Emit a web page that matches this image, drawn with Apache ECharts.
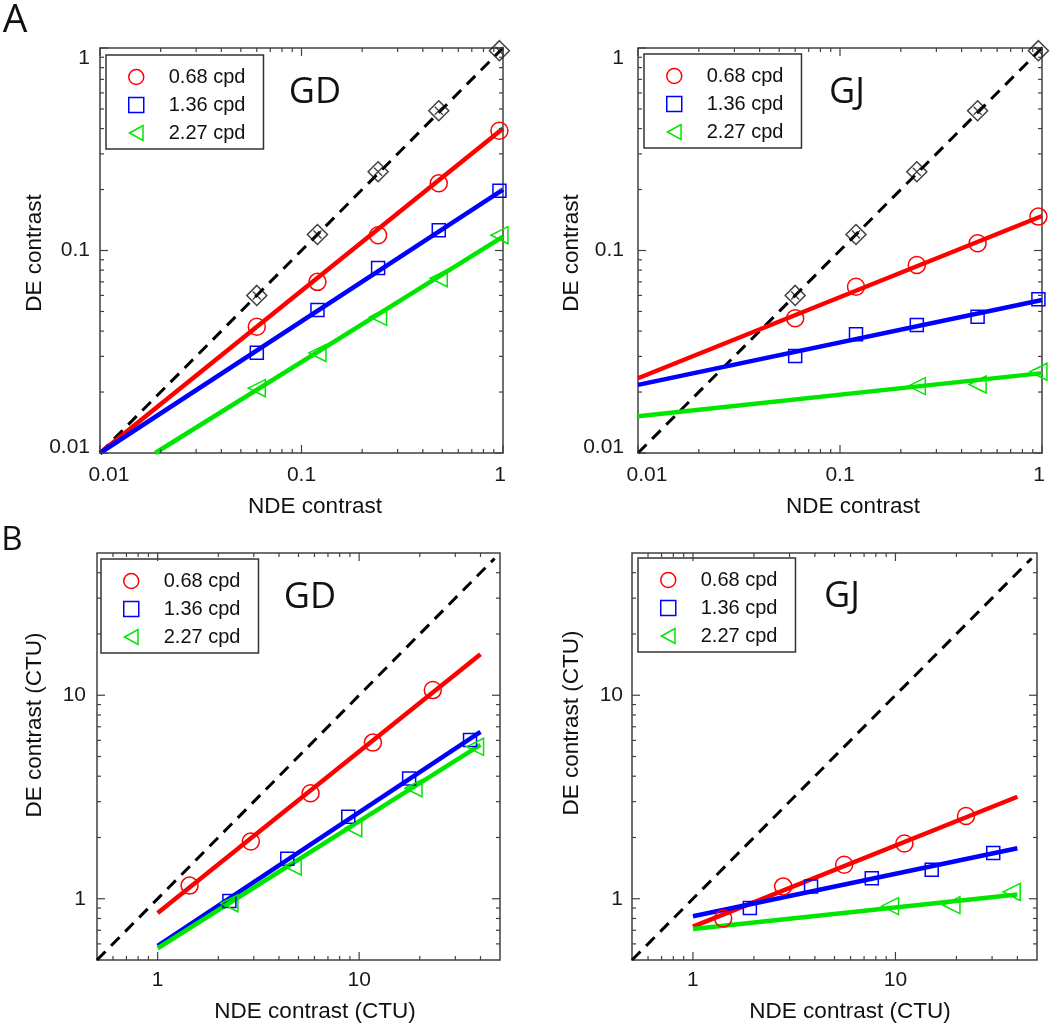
<!DOCTYPE html>
<html><head><meta charset="utf-8">
<script src="https://cdn.jsdelivr.net/npm/echarts@6/dist/echarts.min.js"></script>
<style>html,body{margin:0;padding:0;background:#fff}#c{width:1050px;height:1029px}</style>
</head><body><div id="c"></div><script>
// ---------- data ----------
const seriesNames = ['0.68 cpd', '1.36 cpd', '2.27 cpd'];
// Panel A (contrast), x positions shared
const aX = [0.06, 0.12, 0.24, 0.48, 0.96];
const aGD_unity = [0.06, 0.12, 0.245, 0.49, 0.97];
const aGD_red = [0.042, 0.070, 0.119, 0.215, 0.39];
const aGD_blue = [0.0313, 0.0508, 0.082, 0.126, 0.197];
const aGD_green = [0.0209, 0.0312, 0.047, 0.073, 0.119];
const aGD_fitRed = [[0.01, 0.01], [1, 0.40]];
const aGD_fitBlue = [[0.01, 0.01], [1, 0.20]];
const aGD_fitGreen = [[0.0188, 0.01], [1, 0.117]];

const aGJ_unity = [0.06, 0.12, 0.245, 0.49, 0.97];
const aGJ_red = [0.0463, 0.0662, 0.0848, 0.1085, 0.147];
const aGJ_blue = [0.0301, 0.0386, 0.0429, 0.0471, 0.0574];
const aGJ_greenX = [0.24, 0.48, 0.96];
const aGJ_green = [0.0214, 0.0218, 0.0252];
const aGJ_fitRed = [[0.01, 0.0234], [1, 0.148]];
const aGJ_fitBlue = [[0.01, 0.0217], [1, 0.057]];
const aGJ_fitGreen = [[0.01, 0.0152], [1, 0.0248]];

const aDiag = [[0.01, 0.01], [1, 1]];

// Panel B (CTU)
const bGD_redX = [1.44, 2.9, 5.74, 11.7, 23.2];
const bGD_red = [1.16, 1.91, 3.3, 5.85, 10.6];
const bGD_blueX = [2.27, 4.4, 8.83, 17.7, 35.5];
const bGD_blue = [0.975, 1.57, 2.53, 3.9, 6.03];
const bGD_greenX = [2.27, 4.68, 9.35, 18.6, 37.6];
const bGD_green = [0.95, 1.44, 2.22, 3.49, 5.58];
const bGD_fitRed = [[1, 0.85], [40, 15.9]];
const bGD_fitBlue = [[1, 0.586], [40, 6.6]];
const bGD_fitGreen = [[1, 0.571], [40, 5.7]];

const bGJ_redX = [1.41, 2.79, 5.58, 11.07, 22.3];
const bGJ_red = [0.80, 1.15, 1.47, 1.87, 2.55];
const bGJ_blueX = [1.91, 3.83, 7.64, 15.1, 30.4];
const bGJ_blue = [0.90, 1.15, 1.26, 1.39, 1.68];
const bGJ_greenX = [9.4, 18.9, 37.5];
const bGJ_green = [0.92, 0.93, 1.08];
const bGJ_fitRed = [[1, 0.73], [40, 3.17]];
const bGJ_fitBlue = [[1, 0.82], [40, 1.77]];
const bGJ_fitGreen = [[1, 0.71], [40, 1.05]];

const bDiag = [[0.5, 0.5], [47, 47]];

// axes / ticks
const aRange = [0.01, 1];
const bRange = [0.5, 50];
const aTickValues = [0.01, 0.1, 1];
const aTickLabels = ['0.01', '0.1', '1'];
const bTickValues = [1, 10];
const bTickLabels = ['1', '10'];
const aMinorTicks = [0.02,0.03,0.04,0.05,0.06,0.07,0.08,0.09,0.2,0.3,0.4,0.5,0.6,0.7,0.8,0.9];
const bMinorTicks = [0.6,0.7,0.8,0.9,2,3,4,5,6,7,8,9,20,30,40];

// ---------- styles ----------
const RED = '#ff0000', BLUE = '#0000ff', GREEN = '#00e600', AX = '#404040';
const FONT = 'Liberation Sans, Arial, sans-serif';
const grids = [
  {left: 100, top: 48, width: 403, height: 405},
  {left: 638, top: 48, width: 404, height: 405},
  {left: 97, top: 553, width: 403, height: 407},
  {left: 632, top: 553, width: 405, height: 407}
];

const zip = (xs, ys) => xs.map((x, i) => [x, ys[i]]);
const isSame = (v, t) => Math.abs(Math.log10(v) - Math.log10(t)) < 1e-6;

function richFor() {
  const base = {fontSize: 21, fontFamily: FONT, color: '#1a1a1a'};
  return {
    n: Object.assign({}, base),
    l: Object.assign({padding: [0, 0, 0, 18]}, base),
    r: Object.assign({padding: [0, 6, 0, 0]}, base),
    t: Object.assign({padding: [20, 0, 0, 0]}, base),
    b: Object.assign({padding: [0, 0, 12, 0]}, base)
  };
}
function makeFormatter(vals, labels, styles) {
  return function (v) {
    for (let i = 0; i < vals.length; i++) {
      if (isSame(v, vals[i])) return '{' + styles[i] + '|' + labels[i] + '}';
    }
    return '';
  };
}

const xAxes = [], yAxes = [];
grids.forEach((g, i) => {
  const top = i < 2;
  const range = top ? aRange : bRange;
  const vals = top ? aTickValues : bTickValues;
  const labs = top ? aTickLabels : bTickLabels;
  const common = {
    type: 'log', logBase: 10, gridIndex: i, min: range[0], max: range[1],
    axisLine: {show: false}, axisTick: {show: false}, splitLine: {show: false},
    minorTick: {show: false}, minorSplitLine: {show: false}
  };
  xAxes.push(Object.assign({}, common, {
    position: 'bottom',
    axisLabel: {
      margin: top ? 12 : 10, showMinLabel: true, showMaxLabel: true, hideOverlap: false,
      formatter: makeFormatter(vals, labs, top ? ['l', 'n', 'r'] : ['n', 'n']),
      rich: richFor()
    }
  }));
  yAxes.push(Object.assign({}, common, {
    position: 'left',
    axisLabel: {
      margin: [10, 14, 11, 9][i], showMinLabel: true, showMaxLabel: true, hideOverlap: false,
      formatter: makeFormatter(vals, labs, top ? ['b', 'n', 't'] : ['n', 'n']),
      rich: richFor()
    }
  }));
});

// tick data: [value, kind] kind 1 = x major, 2 = x minor, 3 = y major, 4 = y minor
function tickData(major, minor) {
  const d = [];
  major.forEach(v => { d.push([v, 1]); d.push([v, 3]); });
  minor.forEach(v => { d.push([v, 2]); d.push([v, 4]); });
  return d;
}

const series = [];
const panelData = [
  {diag: aDiag, fits: [aGD_fitRed, aGD_fitBlue, aGD_fitGreen],
   pts: [zip(aX, aGD_red), zip(aX, aGD_blue), zip(aX, aGD_green)], unity: zip(aX, aGD_unity),
   ticks: tickData(aTickValues, aMinorTicks), ref: 0.1},
  {diag: aDiag, fits: [aGJ_fitRed, aGJ_fitBlue, aGJ_fitGreen],
   pts: [zip(aX, aGJ_red), zip(aX, aGJ_blue), zip(aGJ_greenX, aGJ_green)], unity: zip(aX, aGJ_unity),
   ticks: tickData(aTickValues, aMinorTicks), ref: 0.1},
  {diag: bDiag, fits: [bGD_fitRed, bGD_fitBlue, bGD_fitGreen],
   pts: [zip(bGD_redX, bGD_red), zip(bGD_blueX, bGD_blue), zip(bGD_greenX, bGD_green)], unity: null,
   ticks: tickData(bTickValues, bMinorTicks), ref: 1},
  {diag: bDiag, fits: [bGJ_fitRed, bGJ_fitBlue, bGJ_fitGreen],
   pts: [zip(bGJ_redX, bGJ_red), zip(bGJ_blueX, bGJ_blue), zip(bGJ_greenX, bGJ_green)], unity: null,
   ticks: tickData(bTickValues, bMinorTicks), ref: 1}
];
const colors = [RED, BLUE, GREEN];
const symbols = ['circle', 'rect', 'triangle'];
const symSizes = [17, 13, 17];
const symRot = [0, 0, 90];

panelData.forEach((p, i) => {
  series.push({
    type: 'line', name: 'diag' + i, xAxisIndex: i, yAxisIndex: i, data: p.diag,
    symbol: 'none', lineStyle: {color: '#000', width: 3, type: [12, 8]}, silent: true, z: 2
  });
  p.fits.forEach((f, k) => {
    series.push({
      type: 'line', name: 'fit' + i + k, xAxisIndex: i, yAxisIndex: i, data: f,
      symbol: 'none', lineStyle: {color: colors[k], width: 4.5}, silent: true, z: 3
    });
  });
  if (p.unity) {
    series.push({
      type: 'scatter', name: 'unity' + i, xAxisIndex: i, yAxisIndex: i, data: p.unity,
      symbol: 'diamond', symbolSize: 20,
      itemStyle: {color: 'rgba(0,0,0,0)', borderColor: '#111', borderWidth: 1.5}, z: 4, silent: true
    });
    series.push({
      type: 'scatter', name: 'unityx' + i, xAxisIndex: i, yAxisIndex: i, data: p.unity,
      symbol: 'path://M0,0L10,10M10,0L0,10', symbolSize: 8,
      itemStyle: {color: 'none', borderColor: '#111', borderWidth: 1.3}, z: 4, silent: true
    });
  }
  p.pts.forEach((d, k) => {
    series.push({
      type: 'scatter', name: seriesNames[k], xAxisIndex: i, yAxisIndex: i, data: d,
      symbol: symbols[k], symbolSize: symSizes[k], symbolRotate: symRot[k],
      itemStyle: {color: 'rgba(255,255,255,0)', borderColor: colors[k], borderWidth: 1.5, opacity: 1},
      z: 5, silent: true
    });
  });
  series.push({
    type: 'custom', name: 'ticks' + i, xAxisIndex: i, yAxisIndex: i, data: p.ticks,
    clip: false, silent: true, z: 6,
    renderItem: (function (ref) {
      return function (params, api) {
        const v = api.value(0), k = api.value(1);
        const cs = params.coordSys;
        const len = (k === 1 || k === 3) ? 8 : 4;
        const st = {stroke: AX, lineWidth: 1.2};
        if (k <= 2) {
          const px = api.coord([v, ref])[0];
          return {type: 'group', children: [
            {type: 'line', shape: {x1: px, y1: cs.y + cs.height, x2: px, y2: cs.y + cs.height - len}, style: st},
            {type: 'line', shape: {x1: px, y1: cs.y, x2: px, y2: cs.y + len}, style: st}
          ]};
        }
        const py = api.coord([ref, v])[1];
        return {type: 'group', children: [
          {type: 'line', shape: {x1: cs.x, y1: py, x2: cs.x + len, y2: py}, style: st},
          {type: 'line', shape: {x1: cs.x + cs.width, y1: py, x2: cs.x + cs.width - len, y2: py}, style: st}
        ]};
      };
    })(p.ref)
  });
});

const legendIcons = ['circle', 'rect', 'path://M0,5L9,0L9,10Z'];
const legendPos = [[106, 55], [644, 54], [101, 559], [638, 558]];
const legends = legendPos.map(pos => ({
  left: pos[0], top: pos[1], orient: 'vertical', selectedMode: false,
  data: seriesNames.map((n, k) => ({name: n, icon: legendIcons[k],
    itemStyle: {color: 'rgba(255,255,255,0)', borderColor: colors[k], borderWidth: 1.5}})),
  backgroundColor: '#fff', borderColor: '#333', borderWidth: 1.5, borderRadius: 0,
  padding: [11, 18, 5, 22], itemGap: 6, itemWidth: 15, itemHeight: 15,
  textStyle: {fontSize: 20, fontFamily: FONT, color: '#111', lineHeight: 22, padding: [0, 0, 0, 20]}
}));

function txt(x, y, s, size, rot, family) {
  return {
    type: 'text', x: x, y: y, rotation: rot || 0, silent: true, z: 100,
    style: {text: s, fontSize: size, fontFamily: family || FONT, fill: '#111',
      textAlign: 'center', textVerticalAlign: 'middle'}
  };
}
const graphics = [
  txt(15, 21, 'A', 39, 0, 'Open Sans'),
  txt(12, 541, 'B', 33, 0, 'Open Sans'),
  txt(315, 93, 'GD', 36, 0, 'Open Sans'),
  txt(847, 93, 'GJ', 36, 0, 'Open Sans'),
  txt(310, 598, 'GD', 36, 0, 'Open Sans'),
  txt(842, 597, 'GJ', 36, 0, 'Open Sans'),
  txt(315, 507, 'NDE contrast', 22.5),
  txt(853, 507, 'NDE contrast', 22.5),
  txt(315, 1012, 'NDE contrast (CTU)', 22.5),
  txt(850, 1012, 'NDE contrast (CTU)', 22.5),
  txt(35, 253, 'DE contrast', 22.5, Math.PI / 2),
  txt(572, 253, 'DE contrast', 22.5, Math.PI / 2),
  txt(35, 725, 'DE contrast (CTU)', 22.5, Math.PI / 2),
  txt(572, 723, 'DE contrast (CTU)', 22.5, Math.PI / 2)
];

const chart = echarts.init(document.getElementById('c'), null, {renderer: 'canvas'});
chart.setOption({
  animation: false,
  backgroundColor: '#fff',
  grid: grids.map(g => Object.assign({show: true, borderColor: AX, borderWidth: 1.5, backgroundColor: 'rgba(0,0,0,0)', containLabel: false}, g)),
  xAxis: xAxes,
  yAxis: yAxes,
  legend: legends,
  series: series,
  graphic: graphics
});
</script></body></html>
